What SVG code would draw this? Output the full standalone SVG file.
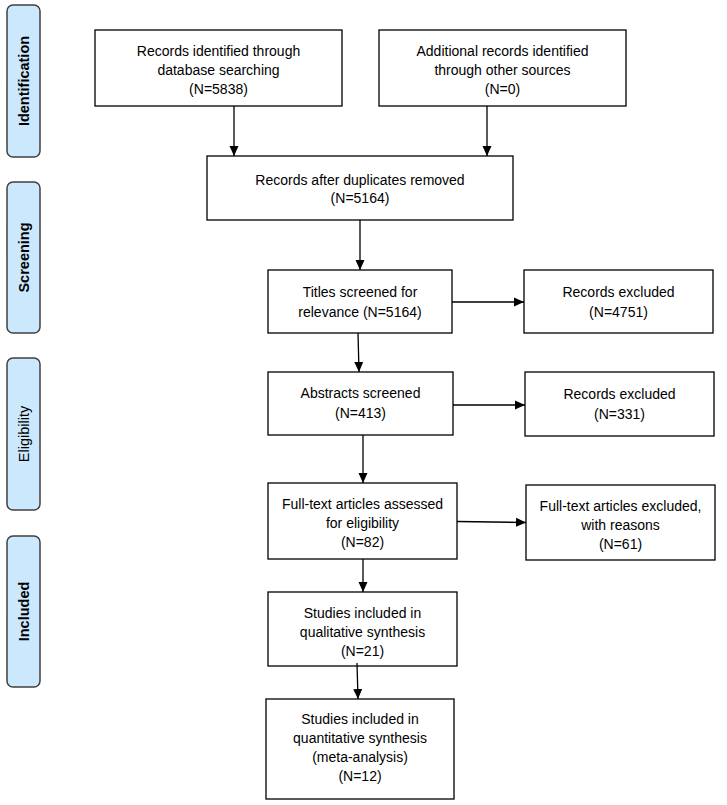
<svg xmlns="http://www.w3.org/2000/svg" width="727" height="805" viewBox="0 0 727 805">
<style>
.bg{fill:#ffffff}
.phase rect{fill:#cce8fc;stroke:#404040;stroke-width:1.5}
.phase text{font-family:"Liberation Sans",Arial,sans-serif;font-size:14.5px;font-weight:bold;fill:#000;text-anchor:middle}
.node rect{fill:#ffffff;stroke:#000;stroke-width:1.3}
.node text{font-family:"Liberation Sans",Arial,sans-serif;font-size:14px;fill:#000;text-anchor:middle}
.conn line{stroke:#000;stroke-width:1.3;marker-end:url(#arr)}
</style>
<defs>
<marker id="arr" viewBox="0 0 10 10" refX="10" refY="5" markerWidth="10" markerHeight="10" markerUnits="userSpaceOnUse" orient="auto">
<path d="M0,0.5 L10,5 L0,9.5 Z" fill="#000"/>
</marker>
</defs>
<rect class="bg" x="0" y="0" width="727" height="805"/>

<g id="phase-identification" class="phase">
<rect x="7" y="5" width="33" height="152" rx="6"/>
<text transform="translate(29,81) rotate(-90)">Identification</text>
</g>
<g id="phase-screening" class="phase">
<rect x="7" y="182" width="33" height="151" rx="6"/>
<text transform="translate(29,257.5) rotate(-90)">Screening</text>
</g>
<g id="phase-eligibility" class="phase">
<rect x="7" y="358" width="33" height="152" rx="6"/>
<text transform="translate(29,434) rotate(-90)" style="font-weight:normal">Eligibility</text>
</g>
<g id="phase-included" class="phase">
<rect x="7" y="536" width="33" height="151" rx="6"/>
<text transform="translate(29,611.5) rotate(-90)">Included</text>
</g>

<g id="n-database" class="node">
<rect x="95" y="30" width="247" height="76"/>
<text x="218.5" y="56">Records identified through</text>
<text x="218.5" y="75">database searching</text>
<text x="218.5" y="94">(N=5838)</text>
</g>
<g id="n-other" class="node">
<rect x="379" y="30" width="247" height="76"/>
<text x="502.5" y="56">Additional records identified</text>
<text x="502.5" y="75">through other sources</text>
<text x="502.5" y="94">(N=0)</text>
</g>
<g id="n-duplicates" class="node">
<rect x="207" y="156" width="306" height="64"/>
<text x="360" y="185">Records after duplicates removed</text>
<text x="360" y="203">(N=5164)</text>
</g>
<g id="n-titles" class="node">
<rect x="268" y="270" width="184" height="63"/>
<text x="360" y="297">Titles screened for</text>
<text x="360" y="317">relevance (N=5164)</text>
</g>
<g id="n-excl1" class="node">
<rect x="524" y="270" width="189" height="63"/>
<text x="618.5" y="297">Records excluded</text>
<text x="618.5" y="317">(N=4751)</text>
</g>
<g id="n-abstracts" class="node">
<rect x="268" y="372" width="185" height="63"/>
<text x="360.5" y="398">Abstracts screened</text>
<text x="360.5" y="418">(N=413)</text>
</g>
<g id="n-excl2" class="node">
<rect x="525" y="372" width="189" height="64"/>
<text x="619.5" y="399">Records excluded</text>
<text x="619.5" y="419">(N=331)</text>
</g>
<g id="n-fulltext" class="node">
<rect x="268" y="483" width="189" height="76"/>
<text x="362.5" y="509">Full-text articles assessed</text>
<text x="362.5" y="528">for eligibility</text>
<text x="362.5" y="547">(N=82)</text>
</g>
<g id="n-excl3" class="node">
<rect x="526" y="485" width="189" height="75"/>
<text x="620.5" y="511">Full-text articles excluded,</text>
<text x="620.5" y="530">with reasons</text>
<text x="620.5" y="549">(N=61)</text>
</g>
<g id="n-qualitative" class="node">
<rect x="268" y="592" width="189" height="74"/>
<text x="362.5" y="618">Studies included in</text>
<text x="362.5" y="637">qualitative synthesis</text>
<text x="362.5" y="656">(N=21)</text>
</g>
<g id="n-quantitative" class="node">
<rect x="266" y="699" width="188" height="100"/>
<text x="360" y="724">Studies included in</text>
<text x="360" y="743">quantitative synthesis</text>
<text x="360" y="762">(meta-analysis)</text>
<text x="360" y="781">(N=12)</text>
</g>

<g id="connectors" class="conn">
<line x1="234" y1="106" x2="234" y2="156"/>
<line x1="487" y1="106" x2="487" y2="156"/>
<line x1="360" y1="220" x2="360" y2="270"/>
<line x1="452" y1="302" x2="524" y2="302"/>
<line x1="358" y1="333" x2="359" y2="372"/>
<line x1="453" y1="405" x2="525" y2="405"/>
<line x1="363" y1="435" x2="363" y2="483"/>
<line x1="457" y1="521.5" x2="526" y2="522.5"/>
<line x1="363" y1="559" x2="363" y2="592"/>
<line x1="357" y1="663" x2="358" y2="699"/>
</g>
</svg>
